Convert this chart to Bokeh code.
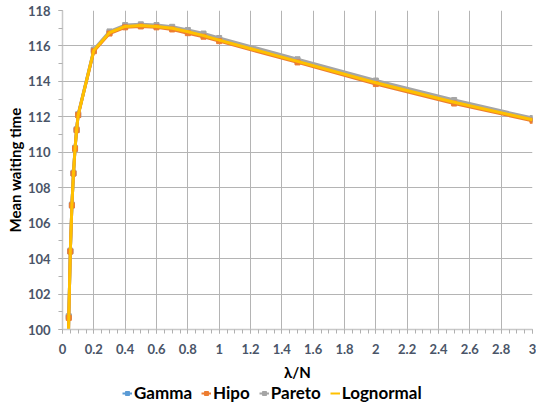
from bokeh.plotting import figure
from bokeh.layouts import column
from bokeh.models import FixedTicker, NumeralTickFormatter, Legend, LegendItem, Range1d
from bokeh.embed import file_html
from bokeh.resources import INLINE

# ---- data ----
lam = [0.03, 0.04, 0.05, 0.06, 0.07, 0.08, 0.09, 0.1, 0.2, 0.3, 0.4, 0.5,
       0.6, 0.7, 0.8, 0.9, 1.0, 1.5, 2.0, 2.5, 3.0]
gamma = [95.5, 100.7, 104.4, 107.0, 108.8, 110.2, 111.25, 112.1, 115.75, 116.75,
         117.1, 117.15, 117.1, 117.0, 116.8, 116.6, 116.35, 115.15, 113.95, 112.85, 111.85]
hipo = [95.4, 100.65, 104.4, 107.0, 108.8, 110.2, 111.25, 112.1, 115.7, 116.7,
        117.05, 117.1, 117.05, 116.93, 116.72, 116.52, 116.27, 115.07, 113.85, 112.75, 111.78]
pareto = [95.6, 100.75, 104.45, 107.05, 108.85, 110.25, 111.3, 112.15, 115.8, 116.82,
          117.18, 117.22, 117.18, 117.08, 116.9, 116.7, 116.45, 115.25, 114.05, 112.95, 111.93]
lognormal = [95.5, 100.7, 104.4, 107.0, 108.8, 110.2, 111.25, 112.1, 115.75, 116.75,
             117.1, 117.15, 117.1, 117.0, 116.8, 116.58, 116.33, 115.13, 113.92, 112.82, 111.84]

x_ticks = [0, 0.2, 0.4, 0.6, 0.8, 1.0, 1.2, 1.4, 1.6, 1.8, 2.0, 2.2, 2.4, 2.6, 2.8, 3.0]
x_minor = [i * 0.05 for i in range(61)]
y_ticks = [100, 102, 104, 106, 108, 110, 112, 114, 116, 118]
y_minor = list(range(100, 119))

series_names = ["Gamma", "Hipo", "Pareto", "Lognormal"]
colors = ["#5B9BD5", "#ED7D31", "#A5A5A5", "#FFC000"]

FONT = "Lato"
TICK_COLOR = "#4A5568"

p = figure(width=536, height=383, output_backend="svg", toolbar_location=None,
           x_range=Range1d(0, 3), y_range=Range1d(100, 118),
           min_border_left=62, min_border_right=4, min_border_top=10, min_border_bottom=54)
p.outline_line_color = None
p.background_fill_color = "white"

# axes
p.xaxis.ticker = FixedTicker(ticks=x_ticks, minor_ticks=x_minor)
p.yaxis.ticker = FixedTicker(ticks=y_ticks, minor_ticks=y_minor)
p.xaxis.formatter = NumeralTickFormatter(format="0.[0]")
for ax in (p.xaxis, p.yaxis):
    ax.axis_line_color = "#C8C8C8"
    ax.axis_line_width = 1.5
    ax.major_tick_line_color = "#B0B0B0"
    ax.minor_tick_line_color = "#B0B0B0"
    ax.major_tick_in = 0
    ax.minor_tick_in = 0
    ax.major_tick_out = 4
    ax.minor_tick_out = 4
    ax.major_label_text_font = FONT
    ax.major_label_text_font_style = "bold"
    ax.major_label_text_font_size = "13px"
    ax.major_label_text_color = TICK_COLOR
    ax.axis_label_text_font = FONT
    ax.axis_label_text_font_style = "bold"
    ax.axis_label_text_font_size = "15px"
    ax.axis_label_text_color = "black"
p.xaxis.axis_label = "λ/N"
p.yaxis.axis_label = "Mean waiting time"
p.xaxis.major_label_standoff = 10
p.yaxis.major_label_standoff = 8
p.xaxis.axis_label_standoff = 6
p.yaxis.axis_label_standoff = 1

p.xgrid.ticker = FixedTicker(ticks=x_ticks)
p.ygrid.ticker = FixedTicker(ticks=y_ticks)
p.grid.grid_line_color = "#B4B4B4"
p.grid.grid_line_width = 1

# legend figure (separate, below the chart); its glyphs lie outside its view
lg = figure(width=536, height=20, output_backend="svg", toolbar_location=None,
            x_axis_type=None, y_axis_type=None, min_border=0,
            x_range=Range1d(0, 1), y_range=Range1d(0, 1))
lg.outline_line_color = None
lg.grid.visible = False

data = dict(zip(series_names, [gamma, hipo, pareto, lognormal]))
cols = dict(zip(series_names, colors))
legend_parts = {}
# draw order: Gamma, Pareto, Hipo (markers on top), Lognormal line last
for name in ["Gamma", "Pareto", "Hipo", "Lognormal"]:
    col, ys = cols[name], data[name]
    p.line(lam, ys, line_color=col, line_width=3)
    rs = [lg.line(lam, ys, line_color=col, line_width=2)]
    if name != "Lognormal":
        p.scatter(lam, ys, marker="square", size=5, fill_color=col, line_color=col)
        rs.append(lg.scatter(lam, ys, marker="square", size=4, fill_color=col, line_color=col))
    legend_parts[name] = rs

items = [LegendItem(label=n, renderers=legend_parts[n]) for n in series_names]
legend = Legend(items=items, orientation="horizontal", location=(60, 0),
                label_text_font=FONT, label_text_font_style="bold",
                label_text_font_size="17px", label_text_color="black",
                glyph_width=10, glyph_height=14, label_standoff=2, spacing=9,
                padding=0, margin=0, border_line_color=None, background_fill_alpha=0)
lg.add_layout(legend, "center")

layout = column(p, lg, spacing=0)
open("out.html", "w").write(file_html(layout, INLINE))
